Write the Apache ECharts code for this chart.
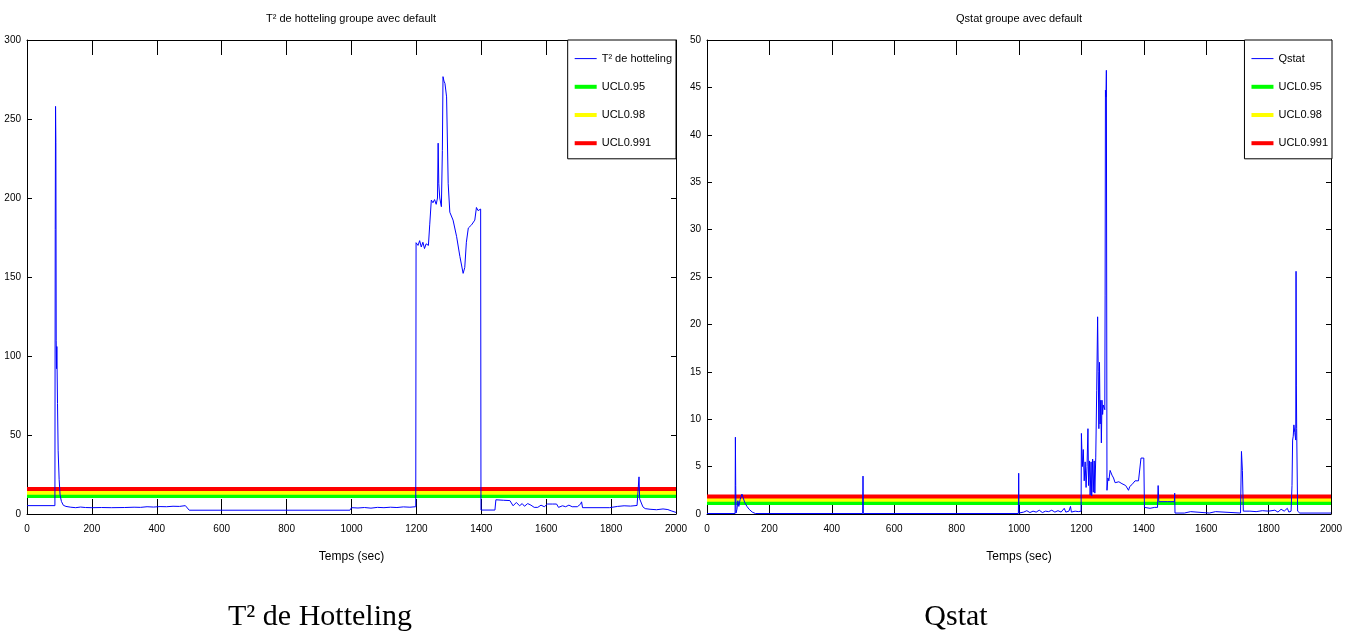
<!DOCTYPE html>
<html>
<head>
<meta charset="utf-8">
<script src="https://cdn.jsdelivr.net/npm/echarts@6/dist/echarts.min.js"></script>
<style>
  html, body { margin: 0; padding: 0; background: #fff; }
  #main { width: 1354px; height: 637px; }
</style>
</head>
<body>
<div id="main"></div>
<script>
// T² de hotteling (time in sec, value)
const t2Time = [0, 86, 87, 88, 89, 90, 91, 92, 94, 96, 99, 102, 106, 112, 120, 135, 150, 165, 180, 200,
  230, 260, 300, 330, 350, 370, 390, 410, 430, 450, 470, 488, 494, 500, 995, 1000, 1020, 1040, 1060, 1080,
  1100, 1120, 1140, 1160, 1180, 1198, 1199, 1205, 1210, 1215, 1220, 1225, 1230, 1237, 1241, 1246, 1251, 1256, 1261, 1265,
  1267, 1269, 1272, 1277, 1280, 1282, 1285, 1288, 1293, 1298, 1303, 1313, 1324, 1334, 1344, 1349, 1354, 1360, 1370, 1380,
  1385, 1390, 1398, 1399, 1442, 1445, 1468, 1488, 1493, 1498, 1508, 1518, 1526, 1533, 1543, 1553, 1563, 1574, 1584, 1594,
  1604, 1620, 1632, 1638, 1650, 1660, 1670, 1680, 1696, 1706, 1709, 1712, 1795, 1800, 1820, 1840, 1860, 1880, 1885, 1886,
  1888, 1893, 1898, 1905, 1920, 1940, 1960, 1975, 1985, 2000];
const t2Value = [5.3, 5.3, 180, 258, 235, 110, 92, 106, 70, 40, 22, 12, 8, 5.5, 4.8, 4.3, 4.0, 4.4, 4.1, 4.0,
  4.1, 4.0, 4.1, 4.3, 4.2, 4.6, 4.4, 4.7, 4.6, 4.9, 4.8, 5.3, 4.5, 2.4, 2.4, 4.0, 3.8, 4.1, 3.7, 4.2,
  4.0, 4.3, 4.1, 4.5, 4.3, 4.6, 171.7, 170, 173, 169, 172, 168, 171, 170, 183, 198.7, 197, 199, 196, 200,
  234.7, 209, 200, 194.5, 230, 276.8, 274, 272.5, 264, 209, 191, 186, 175.5, 163, 152.3, 156, 172, 181, 183, 186,
  194, 192, 193, 2.5, 2.5, 9.0, 8.7, 8.5, 8.0, 5.2, 7.3, 5.2, 6.6, 4.9, 6.6, 5.6, 4.2, 4.2, 5.6, 4.6,
  6.3, 6.3, 6.3, 4.2, 5.2, 4.6, 5.6, 4.6, 4.6, 6.3, 7.7, 4.0, 4.0, 5.0, 4.8, 5.2, 5.0, 5.4, 6.0, 23.5,
  9.6, 8.5, 4.5, 3.4, 3.0, 2.7, 3.2, 2.8, 2.0, 1.0];

// Qstat (time in sec, value)
const qTime = [0, 90, 91, 92, 93, 96, 99, 102, 106, 112, 117, 121, 128, 135, 145, 155, 499, 500, 501, 998,
  999, 1000, 1005, 1015, 1025, 1035, 1045, 1055, 1065, 1075, 1085, 1095, 1105, 1115, 1125, 1135, 1145, 1150, 1160, 1165,
  1168, 1180, 1190, 1199, 1200, 1203, 1206, 1209, 1212, 1215, 1218, 1221, 1223, 1226, 1228, 1231, 1233, 1236, 1238, 1241,
  1243, 1246, 1249, 1252, 1254, 1256, 1258, 1260, 1262, 1264, 1266, 1268, 1270, 1275, 1276, 1277, 1279, 1280, 1282, 1285,
  1288, 1292, 1295, 1298, 1303, 1308, 1314, 1320, 1324, 1330, 1335, 1342, 1347, 1351, 1355, 1362, 1367, 1372, 1378, 1383,
  1388, 1391, 1396, 1400, 1402, 1420, 1435, 1444, 1446, 1448, 1475, 1498, 1499, 1500, 1530, 1535, 1550, 1555, 1610, 1615,
  1630, 1635, 1710, 1713, 1716, 1719, 1740, 1760, 1780, 1800, 1820, 1830, 1840, 1850, 1860, 1865, 1872, 1875, 1877, 1879,
  1881, 1884, 1887, 1888, 1889, 1890, 1893, 1897, 1900, 2000];
const qValue = [0.05, 0.05, 8.1, 3, 0.1, 0.5, 1.4, 0.8, 1.5, 2.1, 2.3, 1.2, 0.8, 0.5, 0.2, 0.05, 0.05, 4.0, 0.05, 0.05,
  4.3, 0.1, 0.3, 0.2, 0.35, 0.15, 0.3, 0.2, 0.4, 0.15, 0.3, 0.25, 0.4, 0.2, 0.35, 0.2, 0.6, 0.2, 0.3, 0.8,
  0.2, 0.3, 0.25, 0.3, 8.5, 5.0, 6.8, 3.5, 5.5, 2.8, 5.0, 9.0, 3.0, 5.6, 2.0, 5.5, 1.9, 5.8, 2.3, 5.6,
  2.2, 6.0, 13, 20.8, 15, 9, 16, 9.5, 12, 7.5, 12, 10.5, 11.5, 11, 23, 44.7, 44, 46.8, 2.5, 3.8,
  3.5, 4.6, 4.5, 4.1, 3.8, 3.3, 3.3, 3.4, 3.5, 3.2, 3.1, 3.0, 2.8, 2.5, 2.9, 3.1, 3.3, 3.5, 3.3, 3.5,
  3.5, 5.9, 5.8, 5.9, 0.7, 0.6, 0.7, 0.7, 3.0, 1.3, 1.3, 1.3, 2.2, 0.1, 0.1, 0.25, 0.25, 0.1, 0.1, 0.25,
  0.25, 0.1, 0.1, 6.6, 4.6, 0.3, 0.3, 0.25, 0.35, 0.3, 0.4, 0.2, 0.5, 0.3, 0.6, 0.2, 0.3, 3.0, 7.8, 8.2,
  9.4, 8.6, 7.8, 25.6, 13.6, 9.0, 0.3, 0.4, 0.1, 0.1];

// control limits: UCL0.95, UCL0.98, UCL0.991
const limitNames = ['UCL0.95', 'UCL0.98', 'UCL0.991'];
const limitColors = ['#00ff00', '#ffff00', '#ff0000'];
const t2Limits = [11.4, 13.5, 15.8];
const qLimits = [1.15, 1.5, 1.85];

const timeMin = 0, timeMax = 2000, timeStep = 200;
const t2Max = 300, t2Step = 50;
const qMax = 50, qStep = 5;

const narrow = "'Liberation Sans Narrow', 'Arial Narrow', 'Liberation Sans', sans-serif";
const serif = "'Liberation Serif', 'Times New Roman', serif";

const pairs = (xs, ys) => xs.map((x, i) => [x, ys[i]]);
const plain = v => String(v);

const myChart = echarts.init(document.getElementById('main'));

const grids = [
  { left: 27, right: 1354 - 676, top: 40, bottom: 123 },
  { left: 707, right: 1354 - 1331, top: 40, bottom: 123 }
];

const xAxes = [];
const yAxes = [];
[0, 1].forEach(g => {
  // bottom axis with labels
  xAxes.push({
    type: 'value', gridIndex: g, min: timeMin, max: timeMax, interval: timeStep,
    name: 'Temps (sec)', nameLocation: 'middle', nameGap: 37,
    nameTextStyle: { fontFamily: narrow, fontSize: 12, color: '#000' },
    axisLine: { show: true, onZero: false, lineStyle: { color: '#000', width: 1 } },
    axisTick: { inside: true, length: 15, lineStyle: { color: '#000' } },
    axisLabel: { fontFamily: narrow, fontSize: 10, color: '#000', margin: 10, formatter: plain },
    splitLine: { show: false }
  });
  // top axis, ticks only
  xAxes.push({
    type: 'value', gridIndex: g, position: 'top', min: timeMin, max: timeMax, interval: timeStep,
    axisLine: { show: true, onZero: false, lineStyle: { color: '#000', width: 1 } },
    axisTick: { inside: true, length: 15, lineStyle: { color: '#000' } },
    axisLabel: { show: false },
    splitLine: { show: false }
  });
  const yMax = g === 0 ? t2Max : qMax;
  const yStep = g === 0 ? t2Step : qStep;
  yAxes.push({
    type: 'value', gridIndex: g, min: 0, max: yMax, interval: yStep,
    axisLine: { show: true, onZero: false, lineStyle: { color: '#000', width: 1 } },
    axisTick: { show: true, inside: true, length: 5, lineStyle: { color: '#000' } },
    axisLabel: { fontFamily: narrow, fontSize: 10, color: '#000', margin: 6, formatter: plain },
    splitLine: { show: false }
  });
  yAxes.push({
    type: 'value', gridIndex: g, position: 'right', min: 0, max: yMax, interval: yStep,
    axisLine: { show: true, onZero: false, lineStyle: { color: '#000', width: 1 } },
    axisTick: { show: true, inside: true, length: 5, lineStyle: { color: '#000' } },
    axisLabel: { show: false },
    splitLine: { show: false }
  });
});

const series = [];
const addChart = (g, name, xs, ys, limits) => {
  limits.forEach((v, i) => {
    series.push({
      name: limitNames[i], type: 'line', xAxisIndex: g * 2, yAxisIndex: g * 2,
      data: [[timeMin, v], [timeMax, v]],
      symbol: 'none', silent: true, z: 2,
      lineStyle: { color: limitColors[i], width: 4 },
      itemStyle: { color: limitColors[i] }
    });
  });
  series.push({
    name: name, type: 'line', xAxisIndex: g * 2, yAxisIndex: g * 2,
    data: pairs(xs, ys),
    symbol: 'none', silent: true, z: 3,
    lineStyle: { color: '#0000ff', width: 1 },
    itemStyle: { color: '#0000ff' }
  });
};
addChart(0, 'T² de hotteling', t2Time, t2Value, t2Limits);
addChart(1, 'Qstat', qTime, qValue, qLimits);

const legendItems = first => [{ name: first, lineStyle: { width: 1 } }]
  .concat(limitNames.map(n => ({ name: n, lineStyle: { width: 4 } })));

const legendBase = {
  orient: 'vertical', top: 40,
  itemWidth: 22, itemHeight: 14, itemGap: 17,
  padding: [13, 4, 10, 5],
  borderColor: '#000', borderWidth: 1, backgroundColor: '#fff',
  selectedMode: false,
  itemStyle: { opacity: 0 },
  textStyle: { fontFamily: narrow, fontSize: 11, color: '#000' }
};

myChart.setOption({
  backgroundColor: '#fff',
  animation: false,
  title: [
    { text: 'T² de hotteling groupe avec default', left: 351, top: 13, textAlign: 'center', padding: 0,
      textStyle: { fontFamily: narrow, fontSize: 11, fontWeight: 'normal', color: '#000' } },
    { text: 'Qstat groupe avec default', left: 1019, top: 13, textAlign: 'center', padding: 0,
      textStyle: { fontFamily: narrow, fontSize: 11, fontWeight: 'normal', color: '#000' } },
    { text: 'T² de Hotteling', left: 320, top: 602, textAlign: 'center', padding: 0,
      textStyle: { fontFamily: serif, fontSize: 30, fontWeight: 'normal', color: '#000' } },
    { text: 'Qstat', left: 956, top: 602, textAlign: 'center', padding: 0,
      textStyle: { fontFamily: serif, fontSize: 30, fontWeight: 'normal', color: '#000' } }
  ],
  legend: [
    Object.assign({}, legendBase, { right: 1354 - 676, data: legendItems('T² de hotteling') }),
    Object.assign({}, legendBase, { right: 1354 - 1332, data: legendItems('Qstat') })
  ],
  grid: grids,
  xAxis: xAxes,
  yAxis: yAxes,
  series: series
});
</script>
</body>
</html>
